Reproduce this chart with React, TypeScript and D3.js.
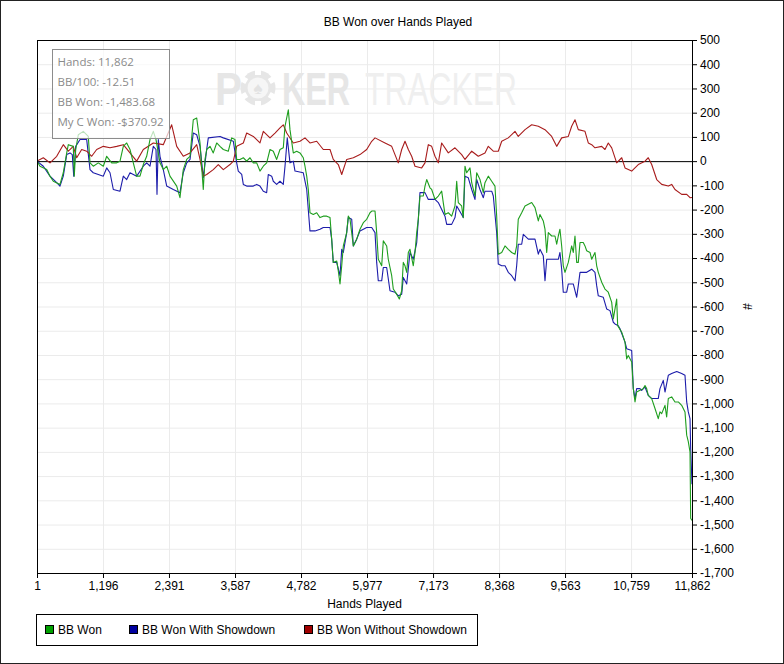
import * as d3 from 'd3';
import * as React from 'react';
import { useEffect, useRef } from 'react';

// [hand, bb] pairs
const bbWon: [number, number][] = [
  [1, 0], [55, -21], [177, -35], [236, -62], [296, -83], [417, -96], [477, -48], [539, 34], [568, 68], [658, 61],
  [676, -62], [702, 48], [749, 109], [839, 123], [930, 102], [961, -7], [1020, -21], [1111, -7], [1202, -21], [1263, 20],
  [1354, -7], [1444, -7], [1504, 0], [1564, 61], [1625, 75], [1685, 48], [1745, -7], [1806, -62], [1866, -62], [1926, -14],
  [1987, 20], [2047, 89], [2107, 123], [2156, 89], [2228, -7], [2288, -35], [2350, -21], [2409, -62], [2531, -103], [2590, -151],
  [2650, -35], [2712, 7], [2772, 20], [2831, 171], [2893, 178], [2953, 75], [3012, -117], [3043, 7], [3074, 48], [3134, 61],
  [3193, 34], [3255, 75], [3315, 61], [3375, 48], [3465, 41], [3527, 96], [3586, 89], [3617, 7], [3677, 7], [3737, 14],
  [3798, 0], [3858, 14], [3918, -7], [3979, -7], [4039, -41], [4099, -21], [4160, -7], [4220, 48], [4280, 41], [4341, 7],
  [4401, 48], [4461, 55], [4492, 144], [4552, 212], [4582, 130], [4642, 34], [4704, 41], [4763, 34], [4823, 14], [4854, -21],
  [4885, -62], [4914, -117], [4944, -213], [5004, -220], [5066, -213], [5126, -233], [5185, -227], [5247, -227], [5307, -233], [5337, -322],
  [5366, -418], [5428, -412], [5457, -453], [5488, -507], [5519, -432], [5548, -350], [5609, -295], [5638, -227], [5669, -240], [5729, -350],
  [5790, -322], [5850, -281], [5910, -254], [5971, -240], [6031, -213], [6062, -206], [6122, -206], [6152, -295], [6181, -405], [6243, -432],
  [6272, -329], [6333, -350], [6362, -405], [6424, -473], [6453, -528], [6514, -549], [6562, -569], [6605, -535], [6634, -418], [6665, -432],
  [6696, -459], [6725, -377], [6755, -364], [6815, -432], [6846, -377], [6877, -295], [6906, -240], [6936, -144], [6996, -144], [7027, -103],
  [7058, -76], [7117, -110], [7148, -117], [7208, -158], [7268, -144], [7329, -124], [7358, -171], [7389, -220], [7449, -213], [7510, -227],
  [7570, -185], [7601, -83], [7630, -171], [7691, -185], [7720, -233], [7751, -21], [7782, -48], [7842, -28], [7873, -89], [7932, -144],
  [7963, -48], [8023, -76], [8083, -130], [8113, -89], [8173, -62], [8235, -83], [8294, -103], [8325, -227], [8354, -384], [8416, -377],
  [8476, -350], [8535, -364], [8597, -377], [8657, -384], [8687, -350], [8716, -240], [8778, -213], [8838, -185], [8898, -178], [8959, -171],
  [9019, -192], [9079, -247], [9109, -220], [9169, -247], [9200, -281], [9231, -377], [9260, -295], [9321, -309], [9381, -309], [9412, -343],
  [9441, -309], [9471, -281], [9502, -350], [9531, -432], [9562, -459], [9622, -418], [9683, -350], [9712, -377], [9743, -309], [9774, -418],
  [9803, -418], [9834, -336], [9893, -336], [9924, -350], [9955, -370], [10015, -377], [10046, -405], [10105, -377], [10136, -432], [10165, -459],
  [10227, -500], [10286, -528], [10346, -541], [10408, -583], [10437, -651], [10498, -569], [10516, -679], [10589, -706], [10649, -747], [10679, -816],
  [10708, -802], [10770, -829], [10799, -939], [10830, -994], [10860, -953], [10920, -946], [10980, -939], [11011, -926], [11041, -939], [11070, -967],
  [11132, -980], [11192, -1021], [11251, -1063], [11282, -1035], [11313, -1042], [11373, -1008], [11403, -1056], [11433, -980], [11494, -973], [11554, -994],
  [11614, -994], [11675, -1008], [11735, -1035], [11766, -1131], [11795, -1158], [11826, -1200], [11838, -1474], [11862, -1483.68],
];

const bbWonShowdown: [number, number][] = [
  [1, 0], [115, -21], [236, -62], [358, -89], [417, -103], [477, -62], [539, 27], [599, 34], [640, 27], [666, -62],
  [702, 61], [780, 89], [901, 89], [961, -35], [1020, -48], [1202, -62], [1263, -28], [1323, -48], [1383, -117], [1504, -124],
  [1564, -62], [1625, -76], [1685, -48], [1806, -62], [1926, -21], [1987, -7], [2047, -21], [2107, 61], [2156, 48], [2174, -137],
  [2198, 89], [2228, 20], [2288, -35], [2350, -103], [2469, -117], [2590, -130], [2650, -48], [2712, -7], [2772, 7], [2831, 116],
  [2893, 109], [2953, 61], [3012, -68], [3074, 48], [3103, 96], [3315, 102], [3375, 96], [3556, 82], [3617, -7], [3646, -41],
  [3708, -55], [3737, -96], [3798, -103], [3918, -103], [3979, -96], [4039, -103], [4099, -124], [4160, -130], [4189, -55], [4251, -62],
  [4280, -83], [4341, -96], [4401, -83], [4461, -96], [4492, -21], [4533, 96], [4582, -7], [4642, 0], [4673, -41], [4823, -48],
  [4885, -117], [4944, -288], [5035, -288], [5126, -281], [5185, -274], [5307, -274], [5337, -322], [5366, -418], [5428, -418], [5488, -473],
  [5519, -364], [5548, -377], [5609, -295], [5638, -233], [5700, -240], [5729, -350], [5790, -322], [5850, -288], [5971, -274], [6062, -274],
  [6122, -295], [6152, -418], [6181, -494], [6243, -494], [6272, -439], [6333, -439], [6393, -535], [6484, -541], [6543, -556], [6605, -549],
  [6634, -480], [6696, -507], [6755, -377], [6815, -405], [6877, -336], [6906, -240], [6936, -130], [7027, -130], [7087, -158], [7208, -158],
  [7268, -171], [7389, -227], [7420, -261], [7510, -261], [7570, -233], [7601, -185], [7691, -220], [7720, -233], [7751, -62], [7811, -69],
  [7873, -117], [7932, -158], [7963, -76], [8023, -117], [8083, -151], [8113, -124], [8235, -124], [8264, -144], [8325, -295], [8354, -425],
  [8416, -432], [8476, -432], [8535, -459], [8597, -473], [8657, -494], [8687, -432], [8716, -343], [8778, -343], [8807, -302], [8898, -322],
  [9019, -322], [9079, -384], [9109, -364], [9169, -391], [9200, -494], [9231, -405], [9441, -405], [9471, -377], [9502, -446], [9531, -541],
  [9593, -541], [9622, -507], [9712, -507], [9774, -562], [9803, -514], [9834, -459], [9955, -459], [10046, -446], [10105, -459], [10136, -514],
  [10165, -556], [10256, -562], [10317, -610], [10377, -617], [10437, -665], [10467, -672], [10527, -679], [10558, -692], [10649, -747], [10679, -774],
  [10770, -782], [10799, -939], [10830, -980], [10860, -939], [10920, -939], [10951, -946], [11011, -932], [11070, -967], [11132, -980], [11251, -980],
  [11282, -939], [11342, -905], [11373, -953], [11433, -884], [11494, -877], [11585, -868], [11675, -877], [11735, -884], [11766, -994], [11795, -1035],
  [11826, -1063], [11838, -1186], [11862, -1334],
];

const bbWonNoShowdown: [number, number][] = [
  [1, 0], [115, 14], [236, -7], [358, 20], [477, 68], [568, 41], [658, 61], [720, 14], [810, 48], [901, 41],
  [991, 20], [1082, 48], [1202, 61], [1323, 55], [1444, 61], [1564, 68], [1685, 34], [1806, 0], [1926, 48], [2107, 75],
  [2288, 68], [2440, 150], [2531, 61], [2650, 20], [2772, 34], [2893, 68], [2953, 7], [3012, -62], [3074, -55], [3193, -35],
  [3284, -14], [3375, -35], [3496, -14], [3556, 0], [3617, 61], [3737, 75], [3798, 116], [3918, 102], [4039, 75], [4099, 123],
  [4220, 96], [4311, 116], [4401, 137], [4461, 150], [4523, 116], [4642, 75], [4763, 82], [4854, 96], [4944, 75], [5066, 82],
  [5185, 48], [5307, 48], [5366, 7], [5457, -14], [5519, -55], [5609, 7], [5729, 14], [5850, 27], [5971, 48], [6062, 82],
  [6122, 96], [6303, 75], [6424, 61], [6543, -7], [6605, 48], [6665, 82], [6725, 48], [6786, 20], [6846, -21], [6967, -28],
  [7027, -7], [7087, 68], [7148, 61], [7208, 20], [7268, -7], [7329, 75], [7449, 34], [7570, 55], [7691, 27], [7751, 7],
  [7873, 41], [7992, 20], [8113, 34], [8173, 61], [8264, 41], [8354, 41], [8416, 82], [8535, 96], [8657, 123], [8716, 102],
  [8838, 130], [8959, 150], [9079, 144], [9200, 130], [9321, 102], [9412, 61], [9502, 96], [9622, 102], [9683, 144], [9743, 171],
  [9803, 130], [9924, 123], [9984, 75], [10046, 68], [10105, 55], [10227, 61], [10286, 48], [10346, 75], [10408, 55], [10498, -7],
  [10589, 14], [10649, -28], [10770, -41], [10889, -14], [11011, 0], [11070, 14], [11132, -14], [11223, -76], [11313, -96], [11433, -103],
  [11494, -96], [11554, -117], [11675, -137], [11766, -137], [11826, -151], [11862, -150],
];

const xTicks = [1, 1196, 2391, 3587, 4782, 5977, 7173, 8368, 9563, 10759, 11862];
const yTicks = [500, 400, 300, 200, 100, 0, -100, -200, -300, -400, -500, -600, -700, -800, -900, -1000, -1100, -1200, -1300, -1400, -1500, -1600, -1700];
const infoLines = ['Hands: 11,862', 'BB/100: -12.51', 'BB Won: -1,483.68', 'My C Won: -$370.92'];

const GREEN = '#1e9e1e';
const BLUE = '#1c1caa';
const RED = '#a81c1c';

const series = [
  { name: 'BB Won With Showdown', data: bbWonShowdown, color: BLUE, key: '#0000a0' },
  { name: 'BB Won Without Showdown', data: bbWonNoShowdown, color: RED, key: '#a00000' },
  { name: 'BB Won', data: bbWon, color: GREEN, key: '#00a000' },
];
const legendOrder = ['BB Won', 'BB Won With Showdown', 'BB Won Without Showdown'];
const legendX = [45, 129, 304];

const W = 784;
const H = 664;
const M = { left: 37, right: 692, top: 40, bottom: 573 };
const FONT = '"Liberation Sans", Arial, sans-serif';

const fmt = d3.formatLocale({ decimal: '.', thousands: ',', grouping: [3], currency: ['$', ''], minus: '-' }).format(',');

export default function App() {
  const ref = useRef<SVGSVGElement | null>(null);

  useEffect(() => {
    if (!ref.current) return;
    const svg = d3.select(ref.current);
    svg.selectAll('*').remove();

    const x = d3.scaleLinear().domain([1, 11862]).range([M.left, M.right]);
    const y = d3.scaleLinear().domain([-1700, 500]).range([M.bottom, M.top]);

    svg.append('rect').attr('width', W).attr('height', H).attr('fill', '#fff');
    svg.append('rect')
      .attr('x', 0.5).attr('y', 0.5).attr('width', W - 1).attr('height', H - 1)
      .attr('fill', 'none').attr('stroke', '#222');

    // title
    svg.append('text')
      .attr('x', 398).attr('y', 26)
      .attr('text-anchor', 'middle')
      .attr('font-family', FONT).attr('font-size', 12)
      .text('BB Won over Hands Played');

    // grid
    const grid = svg.append('g').attr('stroke', '#ebebeb');
    grid.selectAll('line.h').data(yTicks).enter().append('line')
      .attr('x1', M.left).attr('x2', M.right)
      .attr('y1', d => y(d) + 0.5).attr('y2', d => y(d) + 0.5);
    grid.selectAll('line.v').data(xTicks).enter().append('line')
      .attr('y1', M.top).attr('y2', M.bottom)
      .attr('x1', d => x(d) + 0.5).attr('x2', d => x(d) + 0.5);

    // watermark: smaller type stretched vertically so the pieces keep apart
    const wm = svg.append('g').attr('font-family', FONT);
    const mark = (text: string, x0: number, len: number, bold: boolean, fill: string) =>
      wm.append('text')
        .attr('transform', `translate(${x0},105) scale(1,1.36)`)
        .attr('font-size', 34).attr('font-weight', bold ? 'bold' : 'normal')
        .attr('fill', fill)
        .attr('textLength', len).attr('lengthAdjust', 'spacingAndGlyphs')
        .text(text);
    mark('P', 215, 27, true, '#e6e6e6');
    const chip = wm.append('g').attr('transform', 'translate(258,88)');
    chip.append('circle').attr('r', 17.5).attr('fill', '#e6e6e6');
    d3.range(6).forEach(i => {
      chip.append('rect').attr('x', -3).attr('y', -18).attr('width', 6).attr('height', 5)
        .attr('fill', '#fff').attr('transform', `rotate(${i * 60})`);
    });
    chip.append('circle').attr('r', 10.5).attr('fill', '#f6f6f6');
    chip.append('text').attr('y', 6).attr('text-anchor', 'middle').attr('font-size', 17)
      .attr('fill', '#e2e2e2').text('\u2660');
    mark('KER', 282, 68, true, '#e6e6e6');
    mark('TRACKER', 365, 152, false, '#efefef');

    // zero line
    svg.append('line')
      .attr('x1', M.left).attr('x2', M.right)
      .attr('y1', y(0) + 0.5).attr('y2', y(0) + 0.5)
      .attr('stroke', '#000');

    svg.append('clipPath').attr('id', 'plot-clip')
      .append('rect').attr('x', M.left).attr('y', M.top).attr('width', M.right - M.left + 1).attr('height', M.bottom - M.top + 1);

    const line = d3.line<[number, number]>().x(d => x(d[0])).y(d => y(d[1]));
    const lines = svg.append('g').attr('clip-path', 'url(#plot-clip)');
    series.forEach(s => {
      lines.append('path')
        .attr('d', line(s.data))
        .attr('fill', 'none')
        .attr('stroke', s.color)
        .attr('stroke-width', 1.1)
        .attr('stroke-linejoin', 'round');
    });

    // frame
    svg.append('rect')
      .attr('x', M.left + 0.5).attr('y', M.top + 0.5)
      .attr('width', M.right - M.left).attr('height', M.bottom - M.top)
      .attr('fill', 'none').attr('stroke', '#000');

    // axes
    const yAxis = d3.axisRight(y).tickValues(yTicks).tickSize(5).tickSizeOuter(0).tickFormat(d => fmt(d as number));
    svg.append('g').attr('transform', `translate(${M.right},0)`).call(yAxis)
      .attr('font-family', FONT).attr('font-size', 12);

    const xAxis = d3.axisBottom(x).tickValues(xTicks).tickSize(5).tickSizeOuter(0).tickFormat(d => fmt(d as number));
    svg.append('g').attr('transform', `translate(0,${M.bottom})`).call(xAxis)
      .attr('font-family', FONT).attr('font-size', 12);

    svg.append('text')
      .attr('x', (M.left + M.right) / 2).attr('y', 608)
      .attr('text-anchor', 'middle')
      .attr('font-family', FONT).attr('font-size', 12)
      .text('Hands Played');

    svg.append('text')
      .attr('transform', `translate(743,${(M.top + M.bottom) / 2}) rotate(90)`)
      .attr('text-anchor', 'middle')
      .attr('font-family', FONT).attr('font-size', 12)
      .text('#');

    // info box
    const info = svg.append('g');
    info.append('rect')
      .attr('x', 52.5).attr('y', 49.5).attr('width', 117).attr('height', 89)
      .attr('fill', '#fff').attr('fill-opacity', 0.7)
      .attr('stroke', '#8c8c8c');
    info.selectAll('text').data(infoLines).enter().append('text')
      .attr('x', 57.5).attr('y', (_, i) => 66 + i * 20)
      .attr('font-family', '"Open Sans", "Noto Sans", sans-serif').attr('font-size', 11.5)
      .attr('fill', '#8a8a8a')
      .text(d => d);

    // legend
    const legend = svg.append('g').attr('font-family', FONT).attr('font-size', 12);
    legend.append('rect')
      .attr('x', 36.5).attr('y', 614.5).attr('width', 441).attr('height', 31)
      .attr('fill', '#fff').attr('stroke', '#000');
    legendOrder.forEach((name, i) => {
      const s = series.find(d => d.name === name)!;
      legend.append('rect')
        .attr('x', legendX[i] + 0.5).attr('y', 625.5).attr('width', 8).attr('height', 8)
        .attr('fill', s.key).attr('stroke', '#000');
      legend.append('text')
        .attr('x', legendX[i] + 13).attr('y', 634)
        .text(name);
    });
  }, []);

  return (
    <svg ref={ref} width={W} height={H} style={{ position: 'absolute', left: 0, top: 0, display: 'block' }} />
  );
}
